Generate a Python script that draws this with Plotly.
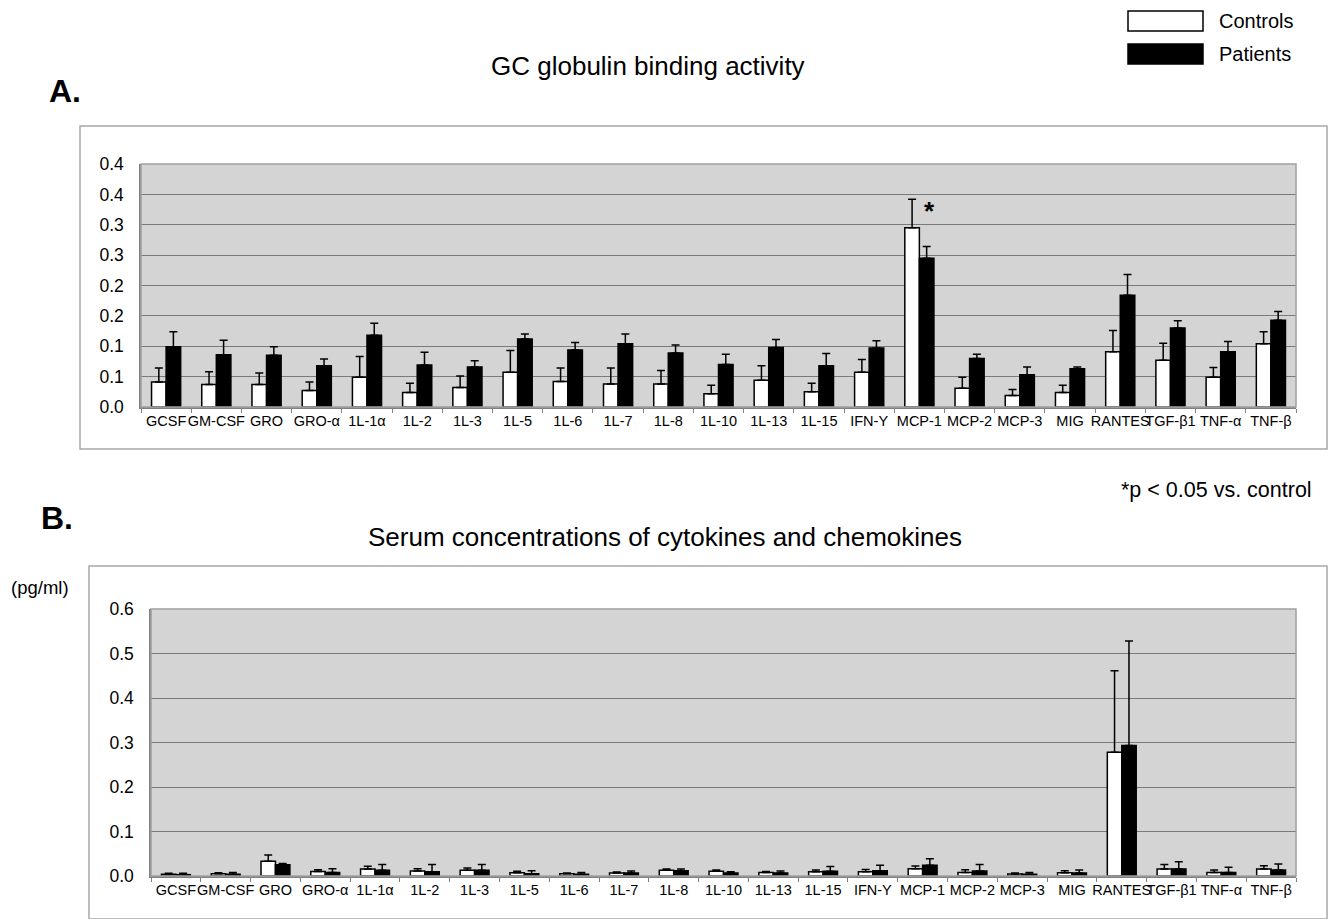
import plotly.graph_objects as go

categories = ["GCSF", "GM-CSF", "GRO", "GRO-α", "1L-1α", "1L-2", "1L-3", "1L-5", "1L-6",
              "1L-7", "1L-8", "1L-10", "1L-13", "1L-15", "IFN-Y", "MCP-1", "MCP-2",
              "MCP-3", "MIG", "RANTES", "TGF-β1", "TNF-α", "TNF-β"]

# Panel A: GC globulin binding activity
a_controls = [0.041, 0.037, 0.037, 0.027, 0.049, 0.024, 0.032, 0.057, 0.042, 0.038, 0.038, 0.022,
              0.044, 0.025, 0.057, 0.295, 0.031, 0.019, 0.024, 0.091, 0.077, 0.049, 0.104]
a_controls_err = [0.023, 0.021, 0.019, 0.014, 0.034, 0.015, 0.019, 0.036, 0.022, 0.026, 0.022, 0.014,
                  0.024, 0.014, 0.021, 0.047, 0.018, 0.010, 0.012, 0.035, 0.028, 0.016, 0.020]
a_patients = [0.099, 0.086, 0.085, 0.068, 0.118, 0.069, 0.066, 0.112, 0.094, 0.104, 0.089, 0.070,
              0.098, 0.068, 0.097, 0.245, 0.080, 0.053, 0.063, 0.184, 0.130, 0.091, 0.143]
a_patients_err = [0.025, 0.024, 0.014, 0.011, 0.020, 0.021, 0.010, 0.008, 0.012, 0.016, 0.013, 0.017,
                  0.013, 0.020, 0.012, 0.019, 0.007, 0.013, 0.003, 0.034, 0.012, 0.017, 0.014]
a_tickvals = [0.0, 0.05, 0.10, 0.15, 0.20, 0.25, 0.30, 0.35, 0.40]
a_ticktext = ["0.0", "0.1", "0.1", "0.2", "0.2", "0.3", "0.3", "0.4", "0.4"]

# Panel B: serum concentrations (pg/ml)
b_controls = [0.004, 0.005, 0.033, 0.010, 0.016, 0.011, 0.013, 0.0075, 0.005, 0.0067, 0.013, 0.0105,
              0.008, 0.0097, 0.0097, 0.0165, 0.008, 0.0045, 0.0075, 0.278, 0.016, 0.008, 0.016]
b_controls_err = [0.002, 0.0025, 0.014, 0.004, 0.006, 0.0055, 0.005, 0.003, 0.002, 0.0023, 0.003, 0.003,
                  0.0023, 0.004, 0.005, 0.006, 0.006, 0.002, 0.0045, 0.183, 0.010, 0.0055, 0.007]
b_patients = [0.003, 0.004, 0.0255, 0.008, 0.0127, 0.0097, 0.0127, 0.005, 0.004, 0.0067, 0.012, 0.0067,
              0.0067, 0.0105, 0.012, 0.024, 0.011, 0.004, 0.0067, 0.293, 0.016, 0.008, 0.0135]
b_patients_err = [0.003, 0.004, 0.0025, 0.0085, 0.013, 0.016, 0.013, 0.007, 0.004, 0.0043, 0.004, 0.003,
                  0.0043, 0.011, 0.012, 0.015, 0.015, 0.004, 0.007, 0.235, 0.016, 0.0115, 0.0135]
b_tickvals = [0.0, 0.1, 0.2, 0.3, 0.4, 0.5, 0.6]
b_ticktext = ["0.0", "0.1", "0.2", "0.3", "0.4", "0.5", "0.6"]

series_names = ["Controls", "Patients"]
W, H = 1329, 919
FONT = "Liberation Sans, Arial, sans-serif"


def px(x):
    return x / W


def py(y):
    return 1 - y / H


fig = go.Figure()


def add_bars(vals, errs, name, fill, xa, ya):
    fig.add_trace(go.Bar(
        x=categories, y=vals, name=name, xaxis=xa, yaxis=ya, showlegend=False,
        marker=dict(color=fill, line=dict(color="black", width=1.5)),
        error_y=dict(type="data", array=errs, arrayminus=[0] * len(errs), symmetric=False,
                     color="black", thickness=1.5, width=4),
    ))


add_bars(a_controls, a_controls_err, series_names[0], "white", "x", "y")
add_bars(a_patients, a_patients_err, series_names[1], "black", "x", "y")
add_bars(b_controls, b_controls_err, series_names[0], "white", "x2", "y2")
add_bars(b_patients, b_patients_err, series_names[1], "black", "x2", "y2")

xcommon = dict(type="category", showline=True, linecolor="#808080", linewidth=1.5,
               ticks="outside", tickson="boundaries", ticklen=4, tickcolor="#808080",
               tickangle=0, automargin=False,
               tickfont=dict(family=FONT, size=14.5, color="black"), showgrid=False)
ycommon = dict(showline=True, linecolor="#808080", linewidth=1.5, ticks="", showgrid=True,
               gridcolor="#7a7a7a", gridwidth=1, zeroline=False, automargin=False,
               tickfont=dict(family=FONT, size=17.5, color="black"), ticklabelstandoff=12)

fig.update_layout(
    width=W, height=H, margin=dict(l=0, r=0, t=0, b=0, pad=0, autoexpand=False),
    paper_bgcolor="white", plot_bgcolor="#d4d4d4",
    barmode="group", bargap=0.42, bargroupgap=0,
    xaxis=dict(domain=[px(141), px(1296)], anchor="y", **xcommon),
    yaxis=dict(domain=[py(407), py(164)], anchor="x", range=[0, 0.4],
               tickvals=a_tickvals, ticktext=a_ticktext, **ycommon),
    xaxis2=dict(domain=[px(151), px(1296)], anchor="y2", **xcommon),
    yaxis2=dict(domain=[py(876), py(609)], anchor="x2", range=[0, 0.6],
                tickvals=b_tickvals, ticktext=b_ticktext, **ycommon),
)

shapes = [
    # outer frames
    dict(type="rect", xref="paper", yref="paper", x0=px(80), x1=px(1327), y0=py(449), y1=py(126),
         line=dict(color="#a8a8a8", width=1.5), fillcolor="rgba(0,0,0,0)", layer="below"),
    dict(type="rect", xref="paper", yref="paper", x0=px(89), x1=px(1327), y0=py(919), y1=py(566),
         line=dict(color="#a8a8a8", width=1.5), fillcolor="rgba(0,0,0,0)", layer="below"),
    # plot area borders
    dict(type="rect", xref="x domain", yref="y domain", x0=0, x1=1, y0=0, y1=1,
         line=dict(color="#a0a0a0", width=1.5)),
    dict(type="rect", xref="x2 domain", yref="y2 domain", x0=0, x1=1, y0=0, y1=1,
         line=dict(color="#a0a0a0", width=1.5)),
    # legend swatches
    dict(type="rect", xref="paper", yref="paper", x0=px(1128), x1=px(1203), y0=py(31), y1=py(11),
         line=dict(color="black", width=1.5), fillcolor="white"),
    dict(type="rect", xref="paper", yref="paper", x0=px(1128), x1=px(1203), y0=py(64), y1=py(44),
         line=dict(color="black", width=1.5), fillcolor="black"),
]
fig.update_layout(shapes=shapes)

ann = [
    dict(text="Controls", x=px(1217), y=py(21), xanchor="left", yanchor="middle",
         font=dict(size=20)),
    dict(text="Patients", x=px(1217), y=py(54), xanchor="left", yanchor="middle",
         font=dict(size=20)),
    dict(text="GC globulin binding activity", x=px(648), y=py(66), xanchor="center", yanchor="middle",
         font=dict(size=26)),
    dict(text="<b>A.</b>", x=px(47), y=py(91), xanchor="left", yanchor="middle",
         font=dict(size=32)),
    dict(text="<b>B.</b>", x=px(39), y=py(518), xanchor="left", yanchor="middle",
         font=dict(size=32)),
    dict(text="Serum concentrations of cytokines and chemokines", x=px(665), y=py(537),
         xanchor="center", yanchor="middle", font=dict(size=26)),
    dict(text="(pg/ml)", x=px(9), y=py(587), xanchor="left", yanchor="middle",
         font=dict(size=18.5)),
    dict(text="*p < 0.05 vs. control", x=px(1314), y=py(490), xanchor="right", yanchor="middle",
         font=dict(size=21.5)),
]
for a in ann:
    a.update(xref="paper", yref="paper", showarrow=False)
    a["font"].update(family=FONT, color="black")

fig.update_layout(annotations=ann)
fig.add_annotation(x="MCP-1", y=0.322, xref="x", yref="y", text="<b>*</b>", showarrow=False,
                   xshift=10, font=dict(family=FONT, size=26, color="black"))

post = (
    "document.documentElement.style.margin='0';"
    "document.documentElement.style.overflow='hidden';"
    "document.body.style.margin='0';"
    "document.body.style.overflow='hidden';"
    "var g=document.querySelector('.plotly-graph-div');"
    "if(g){g.style.position='fixed';g.style.top='0px';g.style.left='0px';}"
)
fig.write_html("out.html", config={"displayModeBar": False}, post_script=post)
